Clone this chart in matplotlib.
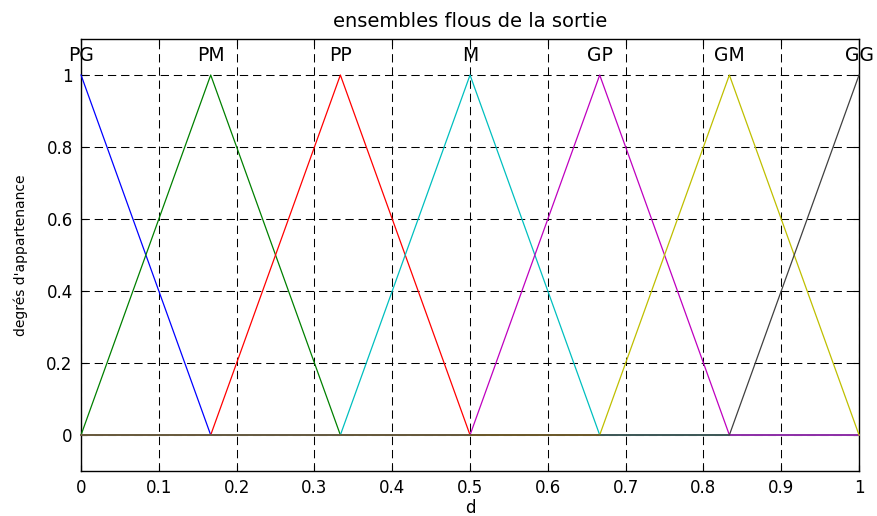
import matplotlib
matplotlib.use('Agg')
import matplotlib.pyplot as plt
import numpy as np

plt.rcParams.update({
    'font.family': ['DejaVu Sans'],
    'font.size': 12,
    'lines.scale_dashes': False,
})

# fuzzy sets of the output: name, triangle vertices (a, b, c)
set_names = ['PG', 'PM', 'PP', 'M', 'GP', 'GM', 'GG']
tri_a = [-1/6, 0, 1/6, 2/6, 3/6, 4/6, 5/6]
tri_b = [0, 1/6, 2/6, 3/6, 4/6, 5/6, 1]
tri_c = [1/6, 2/6, 3/6, 4/6, 5/6, 1, 7/6]
colors = [(0, 0, 1), (0, 0.5, 0), (1, 0, 0), (0, 0.75, 0.75),
          (0.75, 0, 0.75), (0.75, 0.75, 0), (0.25, 0.25, 0.25)]

x_ticks = [0, 0.1, 0.2, 0.3, 0.4, 0.5, 0.6, 0.7, 0.8, 0.9, 1]
x_tick_labels = ['0', '0.1', '0.2', '0.3', '0.4', '0.5', '0.6', '0.7', '0.8', '0.9', '1']
y_ticks = [0, 0.2, 0.4, 0.6, 0.8, 1]
y_tick_labels = ['0', '0.2', '0.4', '0.6', '0.8', '1']

fig = plt.figure(figsize=(8.78, 5.16), dpi=100)
ax = fig.add_axes([0.0923, 0.0872, 0.8861, 0.8372])

xg = np.linspace(0, 1, 301)
for name, a, b, c, col in zip(set_names, tri_a, tri_b, tri_c, colors):
    yg = np.interp(xg, [a, b, c], [0, 1, 0], left=0, right=0)
    ax.plot(xg, yg, color=col, lw=0.9, zorder=3, clip_on=False)
    ax.text(b, 1.055, name, ha='center', va='center', fontsize=13.5, zorder=4)

ax.set_xlim(0, 1)
ax.set_ylim(-0.1, 1.1)
ax.set_xticks(x_ticks)
ax.set_xticklabels(x_tick_labels)
ax.set_yticks(y_ticks)
ax.set_yticklabels(y_tick_labels)
ax.tick_params(direction='in', length=4, width=0.8, labelsize=12, pad=6,
               top=True, right=True)
ax.grid(True, color='black', linestyle=(0, (6, 3.5)), linewidth=0.75)
for sp in ax.spines.values():
    sp.set_linewidth(1.0)

ax.set_title('ensembles flous de la sortie', fontsize=14, pad=9)
ax.set_xlabel('d', fontsize=12, labelpad=1)
ax.set_ylabel("degrés d'appartenance", fontsize=10, labelpad=13)

fig.savefig('out.png', dpi=100)
plt.close(fig)
